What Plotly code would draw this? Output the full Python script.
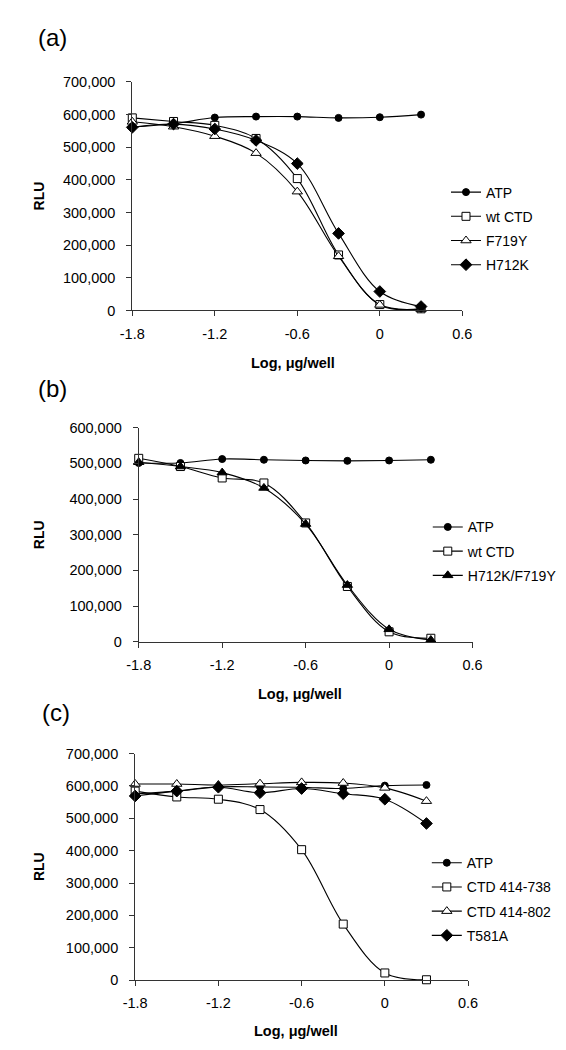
import plotly.graph_objects as go

W, H = 566, 1050

# ---- data ----
x_log = [-1.8, -1.5, -1.2, -0.9, -0.6, -0.3, 0.0, 0.3]

a_atp = [562000, 572000, 591000, 594000, 594000, 590000, 592000, 600000]
a_wt = [590000, 579000, 567000, 527000, 404000, 170000, 18000, 5000]
a_f719y = [578000, 563000, 534000, 482000, 364000, 166000, 17000, 4000]
a_h712k = [561000, 571000, 556000, 521000, 450000, 236000, 58000, 12000]

b_atp = [501000, 501000, 512000, 510000, 508000, 507000, 508000, 510000]
b_wt = [514000, 491000, 459000, 445000, 333000, 155000, 28000, 10000]
b_dbl = [503000, 491000, 474000, 431000, 330000, 159000, 35000, 5000]

c_atp = [576000, 584000, 597000, 597000, 596000, 592000, 601000, 603000]
c_738 = [584000, 566000, 559000, 527000, 403000, 173000, 22000, 1000]
c_802 = [606000, 606000, 603000, 607000, 611000, 609000, 594000, 553000]
c_t581a = [569000, 584000, 596000, 579000, 592000, 576000, 559000, 484000]

x_ticks = [-1.8, -1.2, -0.6, 0, 0.6]
x_ticktext = ["-1.8", "-1.2", "-0.6", "0", "0.6"]

FONT = "Liberation Sans, Arial, sans-serif"
FS = 14.5
LFS = 14

def px_x(p):
    return p / W

def px_y(p):
    return 1 - p / H

markers = {
    "circle": dict(symbol="circle", size=7, color="black", line=dict(color="black", width=1)),
    "square": dict(symbol="square", size=8, color="white", line=dict(color="black", width=1)),
    "triangle": dict(symbol="triangle-up", size=9, color="white", line=dict(color="black", width=1)),
    "triangle_f": dict(symbol="triangle-up", size=9, color="black", line=dict(color="black", width=1)),
    "diamond": dict(symbol="diamond", size=9, color="black", line=dict(color="black", width=1)),
}

fig = go.Figure()

panels = [
    ("x", "y", "legend", [("ATP", a_atp, "circle"), ("wt CTD", a_wt, "square"),
                          ("F719Y", a_f719y, "triangle"), ("H712K", a_h712k, "diamond")]),
    ("x2", "y2", "legend2", [("ATP", b_atp, "circle"), ("wt CTD", b_wt, "square"),
                             ("H712K/F719Y", b_dbl, "triangle_f")]),
    ("x3", "y3", "legend3", [("ATP", c_atp, "circle"), ("CTD 414-738", c_738, "square"),
                             ("CTD 414-802", c_802, "triangle"), ("T581A", c_t581a, "diamond")]),
]

for xa, ya, lg, series in panels:
    for i, (name, vals, mk) in enumerate(series):
        fig.add_trace(go.Scatter(
            x=x_log, y=vals, name=name, mode="lines+markers",
            xaxis=xa, yaxis=ya, legend=lg, legendgroup=lg + str(i),
            line=dict(color="black", width=1.1, shape="spline", smoothing=1),
            marker=markers[mk], cliponaxis=False,
        ))

def xaxis(dom, anchor):
    return dict(domain=dom, anchor=anchor, range=[-1.8, 0.6], tickvals=x_ticks,
                ticktext=x_ticktext, showgrid=False, zeroline=False, showline=True,
                linecolor="#333", linewidth=1, ticks="outside", ticklen=5, tickcolor="#333",
                tickfont=dict(size=FS, color="black", family=FONT), ticklabelstandoff=5)

def yaxis(dom, anchor, top):
    return dict(domain=dom, anchor=anchor, range=[0, top], dtick=100000, tickformat=",",
                showgrid=False, zeroline=False, showline=True, linecolor="#333", linewidth=1,
                ticks="outside", ticklen=5, tickcolor="#333",
                tickfont=dict(size=FS, color="black", family=FONT), ticklabelstandoff=8)

leg_common = dict(font=dict(size=LFS, family=FONT, color="black"), bgcolor="rgba(0,0,0,0)",
                  xanchor="left", yanchor="top", tracegroupgap=3, itemwidth=30)

fig.update_layout(
    width=W, height=H, margin=dict(l=0, r=0, t=0, b=0),
    paper_bgcolor="white", plot_bgcolor="white",
    font=dict(family=FONT, color="black"),
    xaxis=xaxis([px_x(116), px_x(460)], "y"),
    yaxis=yaxis([px_y(299), px_y(67)], "x", 700000),
    xaxis2=xaxis([px_x(122.7), px_x(470.7)], "y2"),
    yaxis2=yaxis([px_y(635.5), px_y(418)], "x2", 600000),
    xaxis3=xaxis([px_x(119), px_x(466)], "y3"),
    yaxis3=yaxis([px_y(979), px_y(749)], "x3", 700000),
    legend=dict(x=px_x(443), y=px_y(163), **leg_common),
    legend2=dict(x=px_x(424), y=px_y(503), **leg_common),
    legend3=dict(x=px_x(423), y=px_y(844), **leg_common),
)

ann = []
for label, xl, yc in [("(a)", 16, 22), ("(b)", 16, 378), ("(c)", 20, 707)]:
    ann.append(dict(text=label, x=px_x(xl), y=px_y(yc), xref="paper", yref="paper",
                    xanchor="left", yanchor="middle", showarrow=False,
                    font=dict(size=24, family=FONT, color="black")))
for xc, yc in [(284, 352), (291, 688), (287, 1031)]:
    ann.append(dict(text="<b>Log, μg/well</b>", x=px_x(xc), y=px_y(yc), xref="paper", yref="paper",
                    xanchor="center", yanchor="middle", showarrow=False,
                    font=dict(size=14.5, family=FONT, color="black")))
for yc in [183, 527, 864]:
    ann.append(dict(text="<b>RLU</b>", x=px_x(19), y=px_y(yc), xref="paper", yref="paper",
                    xanchor="center", yanchor="middle", showarrow=False, textangle=-90,
                    font=dict(size=14, family=FONT, color="black")))
fig.update_layout(annotations=ann)

fig.write_html("out.html")
